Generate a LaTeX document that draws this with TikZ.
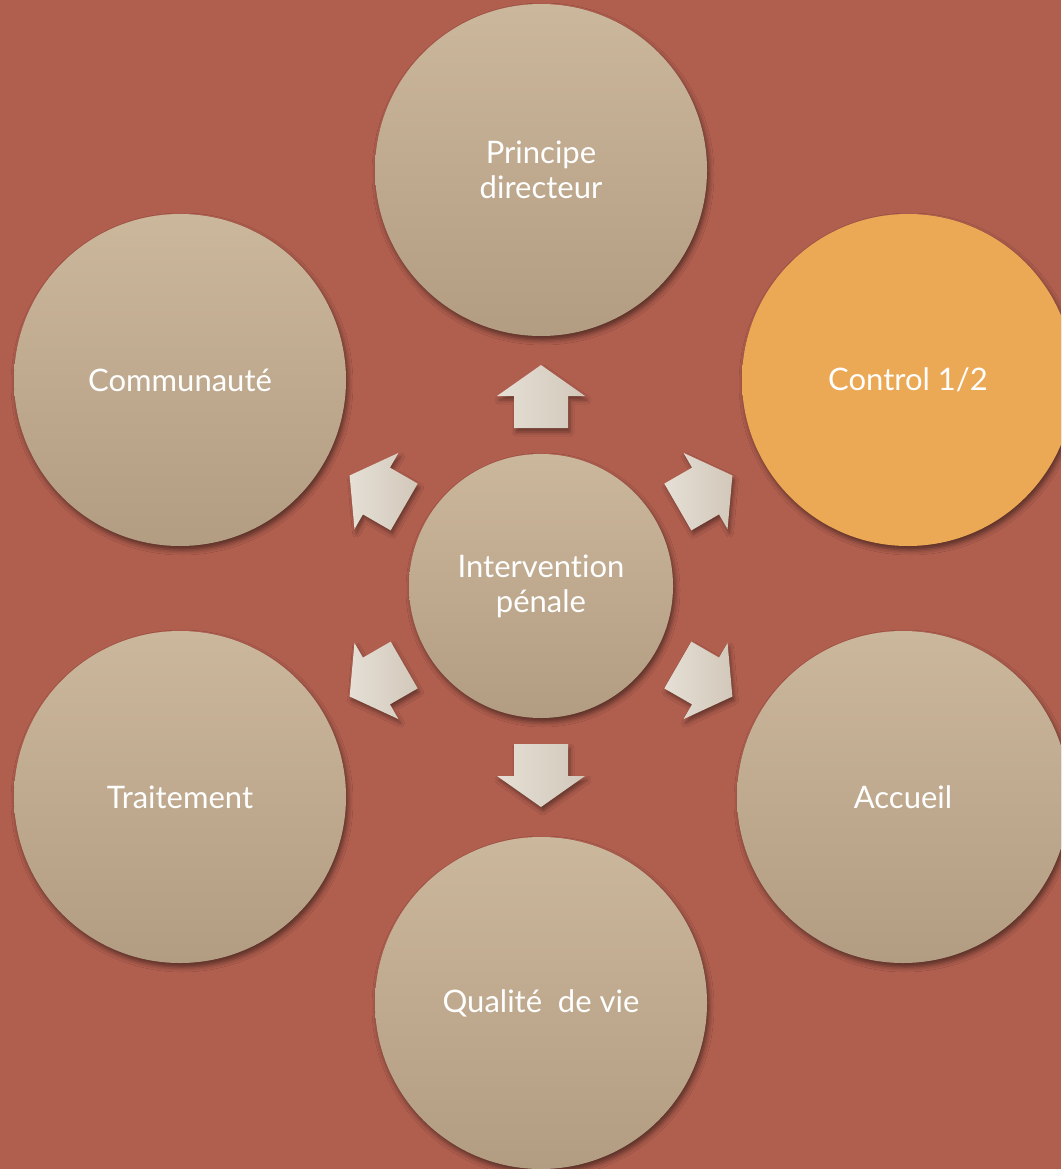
\documentclass[tikz,border=0pt]{standalone}
\usepackage{fontspec}
\setmainfont{Lato}[Ligatures=NoCommon]
\usetikzlibrary{shadows.blur}
\definecolor{bgred}{HTML}{B05E4E}
\definecolor{sandtop}{HTML}{CBB79C}
\definecolor{sandbot}{HTML}{B39D82}
\definecolor{ochre}{HTML}{EBA855}
\definecolor{arrowlt}{HTML}{E5DFD5}
\definecolor{arrowdk}{HTML}{D2C8BA}
\tikzset{
  bubble/.style={circle, minimum size=332pt, inner sep=0pt, top color=sandtop, bottom color=sandbot,
    text=white, align=center, font=\fontsize{31}{35}\selectfont,
    blur shadow={shadow xshift=2pt, shadow yshift=-4pt, shadow blur radius=5pt, shadow opacity=50}},
  hub/.style={bubble, minimum size=264pt},
  hilite/.style={bubble, top color=ochre, bottom color=ochre},
  pointer/.style={left color=arrowlt, right color=arrowdk,
    blur shadow={shadow xshift=2pt, shadow yshift=-4pt, shadow blur radius=4pt, shadow opacity=40}}
}
\begin{document}
\begin{tikzpicture}[x=1pt,y=1pt]
\useasboundingbox (0,0) rectangle (1061,-1169);
\clip (0,0) rectangle (1061,-1169);
\fill[bgred] (0,0) rectangle (1061,-1169);
% outer ring
\node[bubble] (principe) at (541,-170) {Principe\\directeur};
\node[hilite] (control) at (908,-380) {Control 1/2};
\node[bubble] (communaute) at (180,-380) {Communauté};
\node[bubble] (traitement) at (180,-797) {Traitement};
\node[bubble] (accueil) at (903,-797) {Accueil};
\node[bubble] (qualite) at (541,-1003) {Qualité~ de vie};
% centre
\node[hub] (intervention) at (541,-586) {Intervention\\pénale};
% block arrows
\foreach \a in {90,30,-30,-90,-150,150}
  \path[pointer, shift={(intervention.center)}, rotate=\a-90]
    (-27,158) -- (27,158) -- (27,190) -- (44,190) -- (0,221) -- (-44,190) -- (-27,190) -- cycle;
\end{tikzpicture}
\end{document}
